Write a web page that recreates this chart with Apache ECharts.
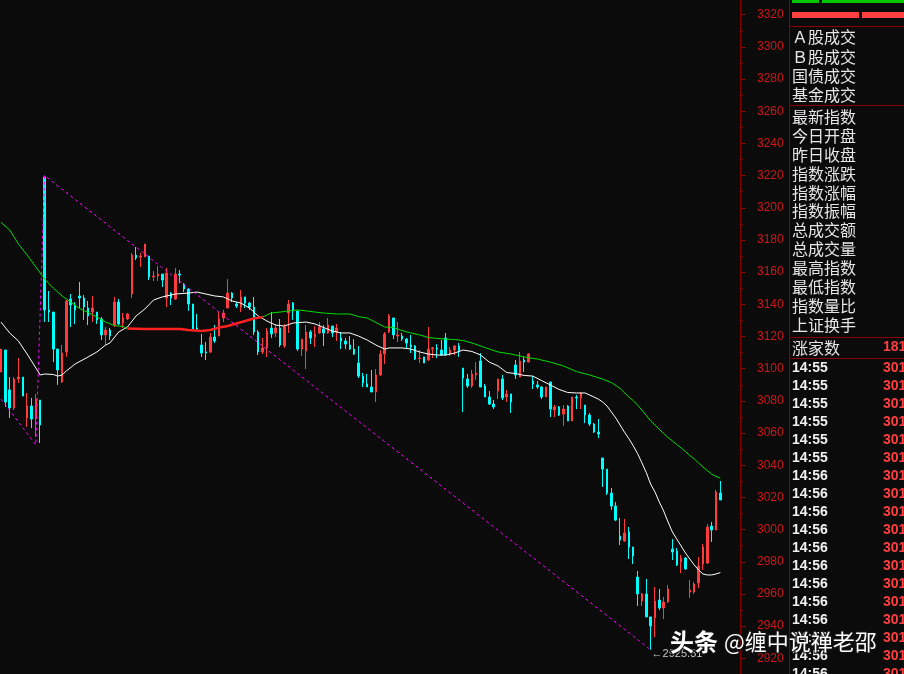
<!DOCTYPE html>
<html><head><meta charset="utf-8">
<script src="https://cdn.jsdelivr.net/npm/echarts/dist/echarts.min.js"></script>
<style>html,body{margin:0;padding:0;background:#0b0b0b;overflow:hidden}#c{width:904px;height:674px}</style>
</head><body><div id="c"></div>
<script>
// [open, close, low, high]
const candles = [
[3097.9,3112.2,3097.9,3112.2],[3111.6,3079.3,3076.2,3111.6],[3086.8,3075.6,3069.4,3094.8],[3075.6,3093.6,3074.3,3094.8],
[3093.6,3094.8,3091.1,3106.6],[3094.8,3083.0,3083.0,3094.8],[3069.4,3076.8,3063.8,3084.9],[3076.8,3068.7,3063.1,3081.8],
[3068.7,3081.1,3057.5,3084.3],[3080.5,3065.0,3053.8,3080.5],[3219.1,3136.5,3129.0,3220.0],[3136.5,3135.2,3129.0,3148.3],
[3135.2,3112.2,3104.1,3135.2],[3112.2,3099.2,3089.9,3112.2],[3091.7,3109.7,3091.1,3114.7],[3110.4,3142.1,3107.3,3142.7],
[3143.3,3139.6,3125.9,3146.4],[3139.6,3136.5,3127.8,3141.4],[3145.2,3143.9,3137.7,3153.9],[3143.9,3138.3,3130.3,3145.8],
[3137.7,3132.8,3127.1,3142.1],[3135.2,3137.7,3129.0,3145.2],[3135.2,3130.3,3127.8,3135.2],[3130.9,3121.0,3117.8,3132.1],
[3121.0,3124.0,3114.7,3125.9],[3124.0,3120.3,3117.8,3125.3],[3127.1,3141.4,3125.9,3144.6],[3141.4,3127.8,3127.1,3143.3],
[3128.4,3131.5,3125.3,3134.6],[3130.9,3134.0,3130.3,3134.6],[3146.4,3170.6,3143.9,3171.9],[3170.6,3168.8,3167.5,3175.6],
[3169.4,3170.0,3163.2,3171.9],[3169.4,3177.5,3169.4,3177.5],[3170.0,3157.0,3155.1,3170.0],[3157.0,3157.6,3154.5,3160.7],
[3157.6,3158.8,3154.5,3163.8],[3158.8,3155.1,3150.8,3158.8],[3143.9,3159.5,3138.3,3162.6],[3147.0,3143.9,3139.6,3147.6],
[3143.3,3158.8,3142.7,3162.6],[3158.8,3158.2,3153.2,3161.3],[3152.6,3149.5,3147.6,3153.2],[3149.5,3140.2,3135.9,3150.1],
[3140.2,3124.7,3124.7,3140.2],[3125.3,3124.5,3123.5,3134.0],[3114.7,3109.7,3107.3,3121.6],[3110.4,3109.7,3105.4,3116.6],
[3110.4,3119.7,3109.7,3122.2],[3119.7,3117.2,3116.0,3127.1],[3120.3,3130.9,3120.3,3135.2],[3131.5,3134.6,3129.0,3136.5],
[3137.7,3147.0,3137.7,3155.7],[3147.0,3143.9,3141.4,3147.6],[3140.2,3138.9,3137.7,3141.4],[3138.3,3144.6,3135.2,3148.9],
[3144.6,3140.8,3137.7,3144.6],[3140.8,3138.3,3136.5,3141.4],[3138.3,3122.8,3120.9,3144.6],[3122.8,3110.4,3108.5,3124.0],
[3110.4,3112.9,3109.1,3119.1],[3112.9,3123.4,3107.3,3125.3],[3125.3,3121.6,3119.1,3135.2],[3122.2,3125.3,3119.7,3127.8],
[3125.3,3114.7,3113.5,3130.9],[3114.1,3125.9,3112.9,3127.8],[3134.6,3140.2,3122.2,3142.7],[3140.8,3135.9,3130.3,3141.4],
[3135.9,3112.2,3111.0,3135.9],[3112.2,3118.4,3107.9,3118.4],[3111.0,3122.8,3099.8,3127.1],[3122.8,3119.1,3115.3,3124.0],
[3119.7,3121.6,3113.5,3126.5],[3122.2,3125.9,3121.6,3129.0],[3124.7,3122.2,3114.1,3127.1],[3122.2,3127.1,3121.6,3131.5],
[3126.5,3122.2,3119.7,3126.5],[3122.8,3125.3,3117.2,3127.8],[3119.1,3117.2,3112.2,3122.8],[3117.2,3115.3,3112.2,3119.1],
[3114.7,3112.2,3111.6,3120.3],[3112.2,3109.1,3108.5,3118.4],[3103.5,3095.4,3094.2,3114.1],[3095.4,3091.1,3088.6,3097.3],
[3090.5,3088.6,3088.6,3096.7],[3088.6,3085.5,3085.5,3099.2],[3085.5,3096.1,3079.3,3099.8],[3096.1,3109.1,3095.4,3111.6],
[3109.1,3121.6,3102.9,3122.8],[3122.8,3132.8,3122.2,3134.0],[3131.5,3121.0,3118.4,3131.5],[3120.3,3121.0,3116.6,3129.0],
[3120.3,3118.4,3117.2,3122.2],[3118.4,3115.9,3112.9,3119.1],[3114.7,3113.5,3109.7,3120.9],[3114.1,3106.0,3105.4,3114.7],
[3106.3,3106.6,3103.5,3111.6],[3107.3,3103.5,3103.5,3107.3],[3105.4,3112.2,3104.8,3125.9],[3112.2,3112.9,3106.6,3113.5],
[3112.9,3112.2,3106.6,3115.3],[3111.6,3108.5,3107.9,3117.8],[3119.1,3108.5,3107.9,3122.2],[3109.1,3111.6,3107.9,3113.5],
[3111.6,3114.1,3108.5,3114.7],[3114.1,3111.0,3107.3,3115.9],[3100.4,3094.2,3073.1,3100.4],[3093.6,3089.2,3088.0,3096.7],
[3089.2,3096.7,3088.0,3099.2],[3096.1,3097.3,3092.9,3104.1],[3104.8,3088.6,3088.6,3109.7],[3089.2,3082.4,3082.4,3090.5],
[3082.4,3078.0,3077.4,3086.1],[3078.0,3076.2,3074.9,3080.5],[3086.1,3093.6,3081.1,3093.6],[3093.6,3081.8,3080.5,3096.1],
[3082.4,3084.3,3079.3,3086.8],[3084.3,3079.3,3072.5,3084.3],[3102.3,3096.1,3093.6,3105.4],[3094.8,3104.8,3094.8,3110.4],
[3105.4,3104.1,3097.9,3107.3],[3104.1,3109.1,3104.1,3109.7],[3092.3,3090.5,3087.4,3095.4],[3089.9,3088.6,3087.4,3092.3],
[3088.6,3082.4,3081.1,3089.2],[3082.4,3088.6,3082.4,3088.6],[3091.7,3074.9,3069.9,3091.7],[3074.3,3076.2,3069.9,3077.4],
[3076.2,3071.2,3070.6,3076.8],[3071.8,3074.9,3064.4,3077.4],[3076.8,3067.5,3067.5,3077.4],[3067.5,3082.4,3067.5,3082.4],
[3082.4,3081.8,3074.9,3083.7],[3081.8,3084.9,3074.9,3085.5],[3077.4,3071.2,3066.2,3077.4],[3071.2,3065.6,3064.4,3072.5],
[3065.6,3060.6,3060.0,3066.2],[3060.6,3059.4,3056.9,3068.7],[3044.5,3037.6,3026.5,3044.5],[3037.6,3022.7,3021.5,3037.6],
[3022.7,3014.6,3012.2,3025.8],[3014.6,3005.9,3005.3,3017.1],[2996.0,2993.5,2990.4,3007.2],[2992.9,2997.9,2992.3,3006.6],
[2998.5,2989.2,2981.7,3001.6],[2989.2,2983.6,2978.6,2989.2],[2970.5,2960.0,2952.5,2974.3],[2955.6,2960.0,2952.5,2960.6],
[2960.0,2945.7,2945.7,2969.3],[2945.7,2940.1,2925.31,2945.7],[2945.1,2955.6,2933.2,2964.3],[2956.2,2951.3,2950.0,2963.1],
[2951.3,2955.0,2944.4,2958.1],[2955.0,2963.1,2954.4,2965.6],[2987.9,2986.1,2981.1,2994.1],[2986.7,2978.0,2977.4,2988.6],
[2979.9,2982.3,2973.0,2984.2],[2982.3,2975.5,2974.9,2982.9],[2961.2,2962.4,2957.5,2968.7],[2961.2,2966.2,2960.0,2967.4],
[2966.8,2977.4,2963.7,2983.0],[2978.6,2989.2,2974.9,2991.0],[2979.2,3001.6,2978.6,3003.5],[3002.2,2999.7,2992.3,3004.7],
[2999.7,3023.4,2999.7,3024.6],[3022.7,3018.4,3018.4,3030.2]
];
const categoryCount = 170;
const categories = Array.from({length: categoryCount}, (_, i) => String(i));

// short moving average (white), read as [bar index, value]
const maShort = [
[0,3129.0],[2,3122.2],[4,3117.2],[6,3109.1],[8,3100.4],[9,3096.1],[10,3096.7],[12,3096.4],[13,3095.4],[14,3096.1],
[15,3098.6],[17,3102.9],[20,3107.3],[22,3110.4],[24,3114.7],[25,3116.0],[27,3122.8],[29,3125.9],[31,3132.8],[33,3137.1],
[35,3142.7],[37,3144.6],[40,3146.4],[43,3147.0],[45,3147.6],[47,3146.4],[49,3145.2],[51,3144.6],[53,3142.1],[55,3140.8],
[57,3137.7],[59,3132.8],[61,3129.6],[63,3127.1],[65,3126.5],[67,3128.4],[70,3129.0],[72,3127.8],[74,3125.6],[76,3123.4],
[78,3122.2],[80,3122.2],[82,3120.3],[84,3117.8],[86,3114.7],[88,3112.2],[89,3112.9],[92,3112.9],[94,3112.2],[96,3110.4],
[98,3109.1],[100,3108.5],[102,3108.5],[104,3109.7],[106,3111.6],[108,3110.7],[110,3108.5],[112,3104.1],[114,3101.7],[116,3097.6],
[118,3097.0],[120,3095.8],[122,3095.4],[124,3092.6],[126,3089.9],[128,3087.1],[130,3085.2],[132,3084.9],[134,3084.9],[136,3082.4],
[137,3081.1],[138,3079.3],[139,3076.8],[140,3073.1],[141,3069.4],[142,3065.0],[143,3060.6],[144,3056.6],[145,3052.1],[146,3047.3],
[147,3041.5],[148,3035.5],[149,3028.3],[150,3023.4],[151,3017.1],[152,3011.5],[153,3004.7],[154,2998.5],[155,2994.1],[156,2989.8],
[157,2985.4],[158,2981.7],[159,2978.0],[160,2974.9],[161,2972.4],[162,2971.8],[163,2971.8],[164,2972.4],[165,2973.3]
];
// long moving average (green, red while below the short one)
const maLong = [
[0,3190.9],[2,3186.2],[4,3177.5],[6,3170.6],[8,3163.2],[10,3155.7],[12,3150.1],[14,3145.2],[16,3141.4],[18,3137.4],
[20,3134.9],[22,3132.1],[24,3129.0],[26,3126.8],[28,3126.2],[29,3125.0],[33,3124.7],[38,3124.7],[41,3124.7],[43,3124.0],
[46,3123.4],[48,3124.0],[50,3125.6],[52,3126.5],[54,3128.1],[56,3129.6],[58,3131.2],[60,3132.1],[62,3134.6],[64,3135.2],
[66,3135.9],[68,3136.5],[70,3135.9],[72,3135.2],[74,3134.6],[77,3134.0],[80,3134.0],[82,3132.4],[84,3131.5],[86,3128.7],
[88,3125.9],[90,3125.6],[92,3123.7],[94,3122.2],[96,3121.0],[98,3119.4],[100,3118.8],[102,3118.4],[104,3118.1],[106,3117.5],
[108,3116.0],[110,3114.1],[112,3112.2],[114,3110.4],[117,3109.1],[120,3107.3],[123,3106.0],[126,3104.1],[129,3101.7],[132,3098.2],
[135,3096.1],[138,3093.5],[140,3091.4],[142,3087.7],[144,3082.4],[145,3080.2],[146,3077.4],[147,3074.3],[148,3070.9],[149,3067.5],
[150,3065.0],[151,3062.2],[152,3059.7],[153,3057.2],[154,3055.1],[155,3052.9],[156,3050.7],[157,3048.5],[158,3046.0],[159,3043.9],
[160,3041.4],[161,3038.9],[162,3036.7],[163,3034.5],[164,3033.0],[165,3032.1]
];
const redRange = [29, 60];
// zigzag turning points [bar index, value]
const zigzag = [[0,3081.1],[8,3052.6],[10,3220.0],[149,2925.31]];
const lowPoint = {index: 149, value: 2925.31};

const yMin = 2900, yMax = 3340, yStep = 20;

const panelGroup1 = ['Ａ股成交','Ｂ股成交','国债成交','基金成交'];
const panelGroup2 = ['最新指数','今日开盘','昨日收盘','指数涨跌','指数涨幅','指数振幅','总成交额','总成交量','最高指数','最低指数','指数量比','上证换手'];
const riseLabel = '涨家数', riseCount = '181';
const tickTimes = ['14:55','14:55','14:55','14:55','14:55','14:55','14:56','14:56','14:56','14:56','14:56','14:56','14:56','14:56','14:56','14:56','14:56','14:56'];
const tickPrices = ['301','301','301','301','301','301','301','301','301','301','301','301','301','301','301','301','301','301'];
const watermark1 = '头条', watermark2 = '@缠中说禅老邵';

const DARKRED = '#8a0000';
const graphics = [];
graphics.push({type:'rect', shape:{x:792,y:0,width:27,height:3}, style:{fill:'#00c800'}, silent:true});
graphics.push({type:'rect', shape:{x:822,y:0,width:82,height:3}, style:{fill:'#00c800'}, silent:true});
graphics.push({type:'rect', shape:{x:792,y:12,width:67,height:6}, style:{fill:'#ff4040'}, silent:true});
graphics.push({type:'rect', shape:{x:862,y:12,width:42,height:6}, style:{fill:'#ff4040'}, silent:true});
graphics.push({type:'line', shape:{x1:789.5,y1:0,x2:789.5,y2:674}, style:{stroke:DARKRED,lineWidth:1}, silent:true});
[26.5,105.5,337.5,358.5].forEach(y => graphics.push({type:'line', shape:{x1:789.5,y1:y,x2:904,y2:y}, style:{stroke:DARKRED,lineWidth:1}, silent:true}));
function txt(x, y, s, font, fill) {
  graphics.push({type:'text', x:x, y:y, silent:true, z:10,
    style:{text:s, font:font, fill:fill, verticalAlign:'middle', textVerticalAlign:'middle'}});
}
const CJK = '16px "Noto Sans CJK SC", sans-serif';
panelGroup1.forEach((s, k) => txt(792, 37.3 + 19.17*k, s, CJK, '#e6e6e6'));
panelGroup2.forEach((s, k) => txt(792, 116.7 + 18.94*k, s, CJK, '#e6e6e6'));
txt(792, 347.5, riseLabel, CJK, '#e6e6e6');
txt(883, 347.5, riseCount, 'bold 14px "Liberation Sans", Arial, sans-serif', '#ff4040');
tickTimes.forEach((s, k) => txt(792, 368.3 + 18*k, s, 'bold 14px "Liberation Sans", Arial, sans-serif', '#f0f0f0'));
tickPrices.forEach((s, k) => txt(883, 368.3 + 18*k, s, 'bold 14px "Liberation Sans", Arial, sans-serif', '#ff4040'));
graphics.push({type:'text', x:670, y:642, z:20, silent:true,
  style:{text:watermark1, font:'bold 24px "Noto Sans CJK SC", sans-serif', fill:'#ffffff',
    stroke:'rgba(20,20,20,0.75)', lineWidth:3, verticalAlign:'middle', textVerticalAlign:'middle'}});
graphics.push({type:'text', x:724, y:642, z:20, silent:true,
  style:{text:watermark2, font:'22px "Noto Sans CJK SC", sans-serif', fill:'#ffffff',
    stroke:'rgba(20,20,20,0.75)', lineWidth:3, verticalAlign:'middle', textVerticalAlign:'middle'}});

const chart = echarts.init(document.getElementById('c'), null, {renderer:'canvas'});
chart.setOption({
  backgroundColor:'#0b0b0b',
  animation:false,
  grid:{left:-1.2, right:164, top:-17.5, bottom:-16.5, containLabel:false, outerBoundsMode:'none'},
  xAxis:{type:'category', data:categories, show:false, boundaryGap:true},
  yAxis:{type:'value', position:'right', min:yMin, max:yMax, interval:yStep,
    axisLine:{show:true, lineStyle:{color:DARKRED, width:1}},
    axisTick:{show:true, inside:false, length:6, lineStyle:{color:DARKRED}},
    minorTick:{show:true, splitNumber:2, length:3, lineStyle:{color:DARKRED}},
    splitLine:{show:false}, minorSplitLine:{show:false},
    axisLabel:{color:'#d01818', fontSize:12, fontFamily:'"Liberation Sans", Arial, sans-serif', margin:17,
      formatter: v => String(v)}
  },
  series:[
    {type:'candlestick', data:candles, barWidth:2, z:2,
      itemStyle:{color:'#ff3c3c', color0:'#00ffff', borderColor:'#ff3c3c', borderColor0:'#00ffff', borderWidth:1}},
    {type:'line', data:maShort, symbol:'none', z:3, connectNulls:true,
      lineStyle:{color:'#ffffff', width:1}},
    {type:'line', data:maLong, symbol:'none', z:3,
      lineStyle:{color:'#00dd00', width:1}},
    {type:'line', data:maLong.filter(p => p[0] >= redRange[0] && p[0] <= redRange[1]), symbol:'none', z:4,
      lineStyle:{color:'#ff2020', width:2.5}},
    {type:'line', data:zigzag, symbol:'none', z:5,
      lineStyle:{color:'#ff00ff', width:1, type:[3,3]},
      markPoint:{symbol:'circle', symbolSize:0, silent:true,
        data:[{coord:[String(lowPoint.index), lowPoint.value], value:lowPoint.value}],
        label:{show:true, position:'right', distance:1, offset:[0,4.5], color:'#c8c8c8', fontSize:11,
          fontFamily:'"Liberation Sans", Arial, sans-serif', formatter: p => '←' + p.value.toFixed(2)}}}
  ],
  graphic: graphics
});
</script>
</body></html>
